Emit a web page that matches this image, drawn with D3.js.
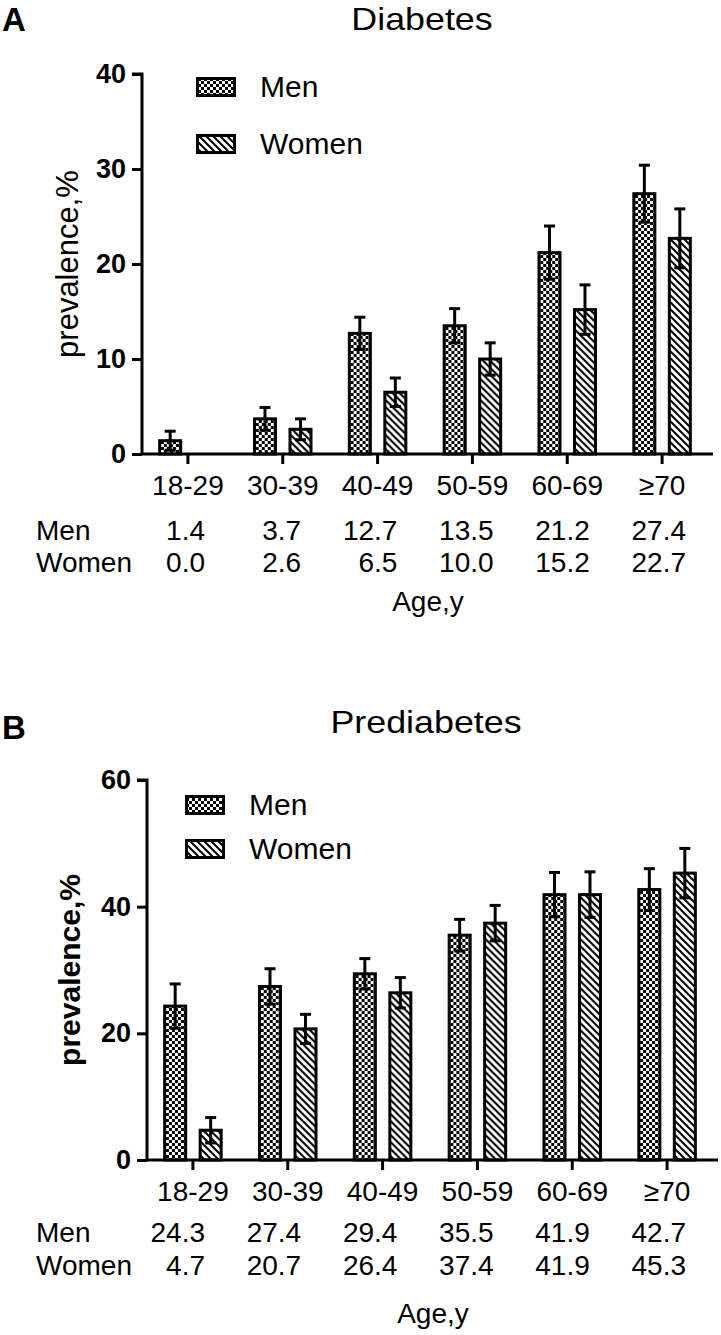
<!DOCTYPE html>
<html>
<head>
<meta charset="utf-8">
<script src="https://cdn.jsdelivr.net/npm/d3@7"></script>
<style>
  html, body { margin: 0; padding: 0; background: #fff; }
  svg text { font-family: "Liberation Sans", Arial, Helvetica, sans-serif; fill: #000; }
</style>
</head>
<body>
<svg id="chart" width="721" height="1335"></svg>
<script>
// ---------- data ----------
const categories = ["18-29", "30-39", "40-49", "50-59", "60-69", "\u226570"];
const seriesNames = ["Men", "Women"];

const diabetesMen = [1.4, 3.7, 12.7, 13.5, 21.2, 27.4];
const diabetesWomen = [0.0, 2.6, 6.5, 10.0, 15.2, 22.7];
const diabetesMenErr = [1.0, 1.2, 1.7, 1.8, 2.8, 3.0];
const diabetesWomenErr = [0.0, 1.1, 1.5, 1.7, 2.6, 3.1];
const diabetesTicks = [0, 10, 20, 30, 40];

const prediabetesMen = [24.3, 27.4, 29.4, 35.5, 41.9, 42.7];
const prediabetesWomen = [4.7, 20.7, 26.4, 37.4, 41.9, 45.3];
const prediabetesMenErr = [3.5, 2.8, 2.4, 2.5, 3.5, 3.3];
const prediabetesWomenErr = [2.0, 2.3, 2.4, 2.8, 3.6, 3.9];
const prediabetesTicks = [0, 20, 40, 60];

const FONT = '"Liberation Sans", Arial, Helvetica, sans-serif';
const svg = d3.select("#chart");

// ---------- patterns ----------
const defs = svg.append("defs");
const chk = defs.append("pattern").attr("id", "pat-Men")
  .attr("patternUnits", "userSpaceOnUse").attr("width", 6).attr("height", 6);
chk.append("rect").attr("width", 6).attr("height", 6).attr("fill", "#fff");
chk.append("rect").attr("width", 3).attr("height", 3).attr("fill", "#000");
chk.append("rect").attr("x", 3).attr("y", 3).attr("width", 3).attr("height", 3).attr("fill", "#000");

const hs = 7;
const hat = defs.append("pattern").attr("id", "pat-Women")
  .attr("patternUnits", "userSpaceOnUse").attr("width", hs).attr("height", hs);
hat.append("rect").attr("width", hs).attr("height", hs).attr("fill", "#fff");
hat.append("path")
  .attr("d", `M-1,${hs - 1} l2,2 M0,0 l${hs},${hs} M${hs - 1},-1 l2,2`)
  .attr("stroke", "#000").attr("stroke-width", 2);

// ---------- panel ----------
function drawPanel(o) {
  const g = svg.append("g");
  const x = d3.scaleBand().domain(categories).range([o.x0 - 1.5, o.x0 + 567.5]).padding(0);
  const xs = d3.scaleBand().domain(seriesNames).range([-28.25, 28.25]).paddingInner(0.408).paddingOuter(0);
  const y = d3.scaleLinear().domain([0, o.ymax]).range([o.yBase, o.yTop]);
  const tableX = d3.scalePoint().domain(categories).range([205, 686]);

  const rows = categories.map((c, i) => ({
    cat: c,
    vals: [
      { s: "Men", v: o.men[i], e: o.menErr[i] },
      { s: "Women", v: o.women[i], e: o.womenErr[i] }
    ]
  }));

  // bars
  const grp = g.selectAll("g.cat").data(rows).join("g")
    .attr("transform", d => `translate(${x(d.cat) + x.bandwidth() / 2},0)`);
  grp.selectAll("rect").data(d => d.vals.filter(v => v.v > 0)).join("rect")
    .attr("x", d => xs(d.s))
    .attr("width", xs.bandwidth())
    .attr("y", d => y(d.v))
    .attr("height", d => y(0) - y(d.v))
    .attr("fill", d => `url(#pat-${d.s})`)
    .attr("stroke", "#000").attr("stroke-width", 3);

  // error bars
  const eb = grp.selectAll("g.err").data(d => d.vals.filter(v => v.e > 0)).join("g")
    .attr("transform", d => `translate(${xs(d.s) + xs.bandwidth() / 2},0)`);
  eb.append("line").attr("x1", 0).attr("x2", 0)
    .attr("y1", d => y(d.v - d.e)).attr("y2", d => y(d.v + d.e))
    .attr("stroke", "#000").attr("stroke-width", 3);
  eb.append("line").attr("x1", -5.5).attr("x2", 5.5)
    .attr("y1", d => y(d.v + d.e)).attr("y2", d => y(d.v + d.e))
    .attr("stroke", "#000").attr("stroke-width", 3);
  eb.append("line").attr("x1", -5.5).attr("x2", 5.5)
    .attr("y1", d => y(d.v - d.e)).attr("y2", d => y(d.v - d.e))
    .attr("stroke", "#000").attr("stroke-width", 3);

  // y axis
  const ya = g.append("g").attr("transform", `translate(${o.x0},0)`)
    .call(d3.axisLeft(y).tickValues(o.ticks).tickSize(10).tickPadding(6));
  ya.select(".domain").attr("d", `M-10,${y(o.ymax)}H0V${y(0)}`).attr("stroke-width", 3);
  ya.selectAll(".tick line").attr("stroke-width", 3);
  ya.selectAll(".tick text").attr("font-family", FONT).attr("font-size", 27).attr("font-weight", "bold");

  // x axis
  const xa = g.append("g").attr("transform", `translate(0,${y(0)})`)
    .call(d3.axisBottom(x).tickSize(10).tickPadding(16));
  xa.select(".domain").attr("d", `M${o.x0},0H${o.x0 + 571}`).attr("stroke-width", 3);
  xa.selectAll(".tick line").attr("stroke-width", 3);
  xa.selectAll(".tick text").attr("font-family", FONT).attr("font-size", 28)
    .attr("dy", null).attr("y", 41);

  // table
  const tbl = [
    { name: "Men", vals: o.men, dy: o.rowMen },
    { name: "Women", vals: o.women, dy: o.rowWomen }
  ];
  tbl.forEach(r => {
    g.append("text").attr("x", 36).attr("y", y(0) + r.dy).attr("font-size", 28).text(r.name);
    g.selectAll(null).data(categories).join("text")
      .attr("x", c => tableX(c)).attr("y", y(0) + r.dy)
      .attr("text-anchor", "end").attr("font-size", 28)
      .text((c, i) => r.vals[i].toFixed(1));
  });
  g.append("text").attr("x", o.x0 + 286).attr("y", y(0) + o.ageDy)
    .attr("text-anchor", "middle").attr("font-size", 28).text("Age,y");

  // y label
  g.append("text")
    .attr("transform", `translate(${o.ylabX},${(y(0) + y(o.ymax)) / 2}) rotate(-90)`)
    .attr("text-anchor", "middle").attr("font-size", o.ylabSize)
    .attr("font-weight", o.ylabBold ? "bold" : "normal")
    .text("prevalence,%");

  // title & letter
  g.append("text")
    .attr("transform", `translate(${o.titleX},${o.titleY}) scale(1.12,1)`)
    .attr("text-anchor", "middle")
    .attr("font-size", 32).text(o.title);
  g.append("text").attr("x", 2).attr("y", o.letterY).attr("font-size", 33)
    .attr("font-weight", "bold").text(o.letter);

  // legend
  seriesNames.forEach((s, i) => {
    g.append("rect").attr("x", o.legX + 1.5).attr("y", o.legY[i] + 1.5)
      .attr("width", 37).attr("height", 17)
      .attr("fill", `url(#pat-${s})`).attr("stroke", "#000").attr("stroke-width", 3);
    g.append("text").attr("x", o.legX + 64).attr("y", o.legY[i] + 20)
      .attr("font-size", 30).text(s);
  });
}

drawPanel({
  letter: "A", letterY: 31, title: "Diabetes", titleX: 422, titleY: 30,
  men: diabetesMen, women: diabetesWomen, menErr: diabetesMenErr, womenErr: diabetesWomenErr,
  ticks: diabetesTicks, ymax: 40, yBase: 454, yTop: 74, x0: 142,
  ylabX: 78, ylabSize: 31, ylabBold: false,
  legX: 196, legY: [77, 134],
  rowMen: 86, rowWomen: 118, ageDy: 157
});

drawPanel({
  letter: "B", letterY: 739, title: "Prediabetes", titleX: 426, titleY: 733,
  men: prediabetesMen, women: prediabetesWomen, menErr: prediabetesMenErr, womenErr: prediabetesWomenErr,
  ticks: prediabetesTicks, ymax: 60, yBase: 1160, yTop: 780, x0: 147,
  ylabX: 80, ylabSize: 30, ylabBold: true,
  legX: 185, legY: [795, 839],
  rowMen: 82, rowWomen: 115, ageDy: 163
});
</script>
</body>
</html>
